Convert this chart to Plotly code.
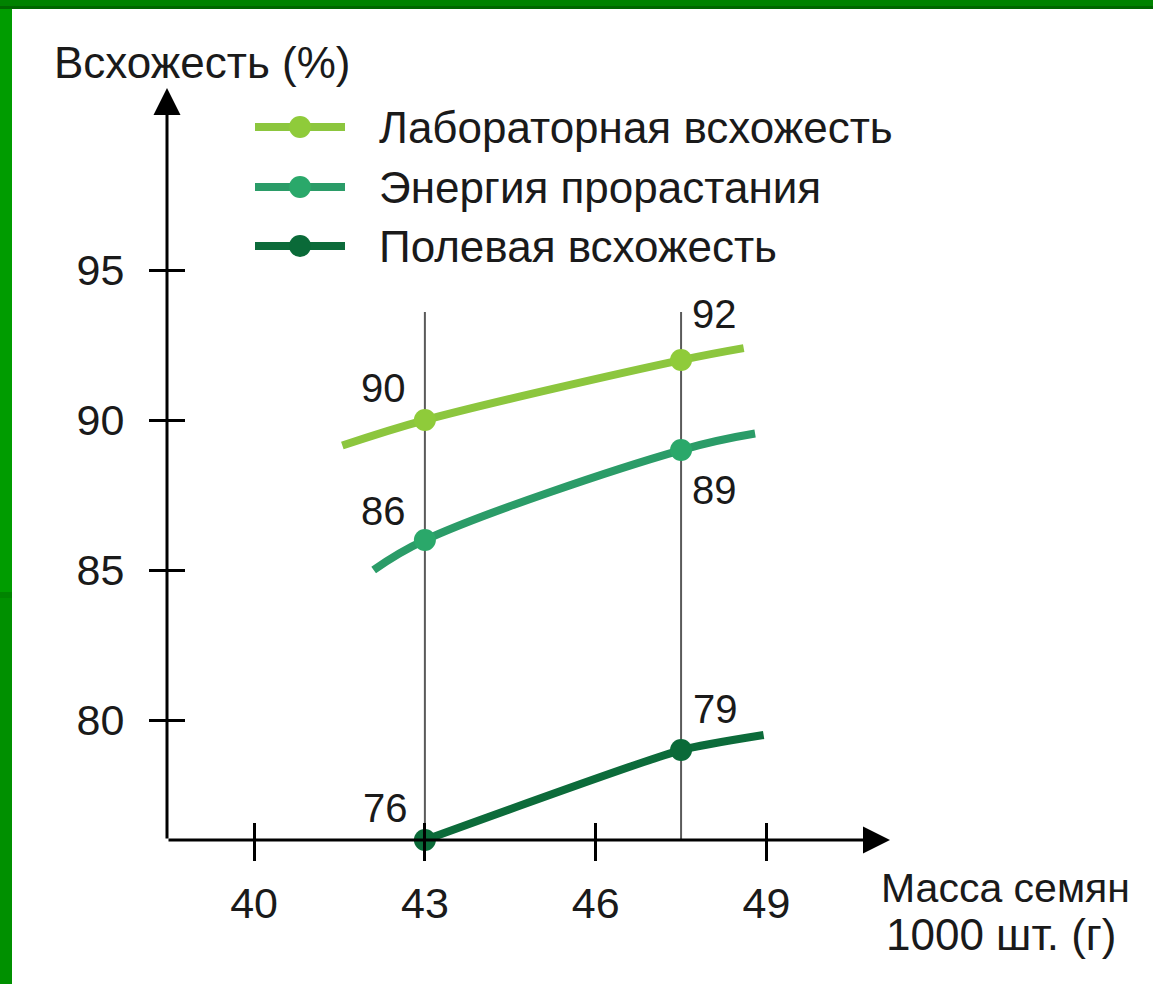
import plotly.graph_objects as go

# ---- data -------------------------------------------------------------
series_names = ["Лабораторная всхожесть", "Энергия прорастания", "Полевая всхожесть"]
series_colors = ["#8cc63e", "#2b9c68", "#0c6b3a"]
marker_colors = ["#8fcb3a", "#2aa86a", "#0a6a38"]
series_smoothing = [1.0, 1.1, 0.5]

# x positions (seed mass, g) of the measured points
point_x = [43, 47.5]
# measured values at those masses
lab_points = [90, 92]
energy_points = [86, 89]
field_points = [76, 79]

# curve extents (smooth trend lines through the measured points)
lab_curve_x = [41.55, 43, 47.5, 48.6]
lab_curve_y = [89.15, 90, 92, 92.4]
energy_curve_x = [42.1, 43, 47.5, 48.8]
energy_curve_y = [85.0, 86, 89, 89.55]
field_curve_x = [43, 47.5, 48.95]
field_curve_y = [76, 79, 79.5]

x_ticks = [40, 43, 46, 49]
y_ticks = [80, 85, 90, 95]
x_range = [38.47, 51.17]
y_range = [76, 101.07]
guide_top = 93.6

# ---- figure geometry ---------------------------------------------------
W, H = 1153, 984
ML, MR, MT, MB = 167, 263, 88, 144
PW, PH = W - ML - MR, H - MT - MB


def px(x):
    return (x - ML) / PW


def py(y):
    return (H - MB - y) / PH


FONT = "Liberation Sans, Arial, sans-serif"
INK = "#1a1a1a"

fig = go.Figure()

curves = [(lab_curve_x, lab_curve_y), (energy_curve_x, energy_curve_y),
          (field_curve_x, field_curve_y)]
points = [lab_points, energy_points, field_points]

for name, color, sm, (cx, cy) in zip(series_names, series_colors, series_smoothing, curves):
    fig.add_trace(go.Scatter(x=cx, y=cy, mode="lines", name=name,
                             line=dict(color=color, width=8, shape="spline", smoothing=sm),
                             showlegend=False, hoverinfo="skip", cliponaxis=False))

for name, mcolor, vals in zip(series_names, marker_colors, points):
    fig.add_trace(go.Scatter(x=point_x, y=vals, mode="markers", name=name,
                             marker=dict(color=mcolor, size=22),
                             showlegend=False, cliponaxis=False))

# empty trace so the overlay axes (inner half of the cross ticks) are drawn
fig.add_trace(go.Scatter(x=[], y=[], xaxis="x2", yaxis="y2", showlegend=False, hoverinfo="skip"))

# vertical guide lines at the measured masses
for gx in point_x:
    fig.add_shape(type="line", xref="x", yref="y", x0=gx, x1=gx, y0=y_range[0], y1=guide_top,
                  line=dict(color="#5a5a5a", width=2), layer="below")

# value labels next to each point: (dx, dy) pixel offsets
label_offsets = [
    [(-41, 32), (33, 46)],
    [(-41, 29), (33, -40)],
    [(-39, 32), (34, 41)],
]
for vals, offs in zip(points, label_offsets):
    for xv, yv, (dx, dy) in zip(point_x, vals, offs):
        fig.add_annotation(x=xv, y=yv, xref="x", yref="y", text=str(yv), showarrow=False,
                           xshift=dx, yshift=dy, font=dict(family=FONT, size=40, color=INK))

# axis arrows
fig.add_annotation(x=x_range[1], y=y_range[0], ax=x_range[0], ay=y_range[0],
                   xref="x", yref="y", axref="x", ayref="y", text="", showarrow=True,
                   arrowhead=2, arrowsize=1.8, arrowwidth=3, arrowcolor="#000000")
fig.add_annotation(x=x_range[0], y=y_range[1], ax=x_range[0], ay=y_range[0],
                   xref="x", yref="y", axref="x", ayref="y", text="", showarrow=True,
                   arrowhead=2, arrowsize=1.8, arrowwidth=3, arrowcolor="#000000")

# axis titles
fig.add_annotation(x=px(52), y=py(62), xref="paper", yref="paper", xanchor="left", yanchor="middle",
                   text="Всхожесть (%)", showarrow=False,
                   font=dict(family=FONT, size=44, color=INK))
fig.add_annotation(x=px(1005), y=py(888), xref="paper", yref="paper", xanchor="center", yanchor="middle",
                   text="Масса семян", showarrow=False,
                   font=dict(family=FONT, size=41, color=INK))
fig.add_annotation(x=px(1001), y=py(934), xref="paper", yref="paper", xanchor="center", yanchor="middle",
                   text="1000 шт. (г)", showarrow=False,
                   font=dict(family=FONT, size=44, color=INK))

# legend drawn by hand: long line sample with a dot in the middle
legend_rows = [127, 187, 246]
for name, color, mcolor, ry in zip(series_names, series_colors, marker_colors, legend_rows):
    fig.add_shape(type="line", xref="paper", yref="paper", x0=px(255), x1=px(345),
                  y0=py(ry), y1=py(ry), line=dict(color=color, width=8))
    fig.add_shape(type="circle", xref="paper", yref="paper", x0=px(289), x1=px(311),
                  y0=py(ry + 11), y1=py(ry - 11), fillcolor=mcolor, line=dict(width=0))
    fig.add_annotation(x=px(377), y=py(ry), xref="paper", yref="paper", xanchor="left",
                       yanchor="middle", text=name, showarrow=False,
                       font=dict(family=FONT, size=44, color=INK))

# green slide frame
frame = [
    (0, W, 0, 6, "#008200"),
    (0, W, 6, 9, "#006600"),
    (0, 12, 9, 592, "#009c00"),
    (0, 12, 592, 598, "#008400"),
    (0, 12, 598, H, "#009000"),
]
for x0, x1, y0, y1, c in frame:
    fig.add_shape(type="rect", xref="paper", yref="paper", x0=px(x0), x1=px(x1),
                  y0=py(y1), y1=py(y0), fillcolor=c, line=dict(width=0), layer="above")

axis_common = dict(showgrid=False, zeroline=False, showline=False, tickcolor="#000000",
                   tickwidth=3, tickfont=dict(family=FONT, size=43, color=INK))

fig.update_layout(
    width=W, height=H,
    margin=dict(l=ML, r=MR, t=MT, b=MB, pad=0),
    paper_bgcolor="#ffffff", plot_bgcolor="#ffffff",
    showlegend=False,
    xaxis=dict(range=x_range, tickvals=x_ticks, ticks="outside", ticklen=20,
               ticklabelstandoff=5, **axis_common),
    xaxis2=dict(range=x_range, tickvals=x_ticks, ticks="inside", ticklen=17,
                showticklabels=False, overlaying="x", anchor="y2", side="bottom", **axis_common),
    yaxis=dict(range=y_range, tickvals=y_ticks, ticks="outside", ticklen=17,
               ticklabelstandoff=16, **axis_common),
    yaxis2=dict(range=y_range, tickvals=y_ticks, ticks="inside", ticklen=18,
                showticklabels=False, overlaying="y", anchor="x2", side="left", **axis_common),
)

fig.write_html("out.html")
